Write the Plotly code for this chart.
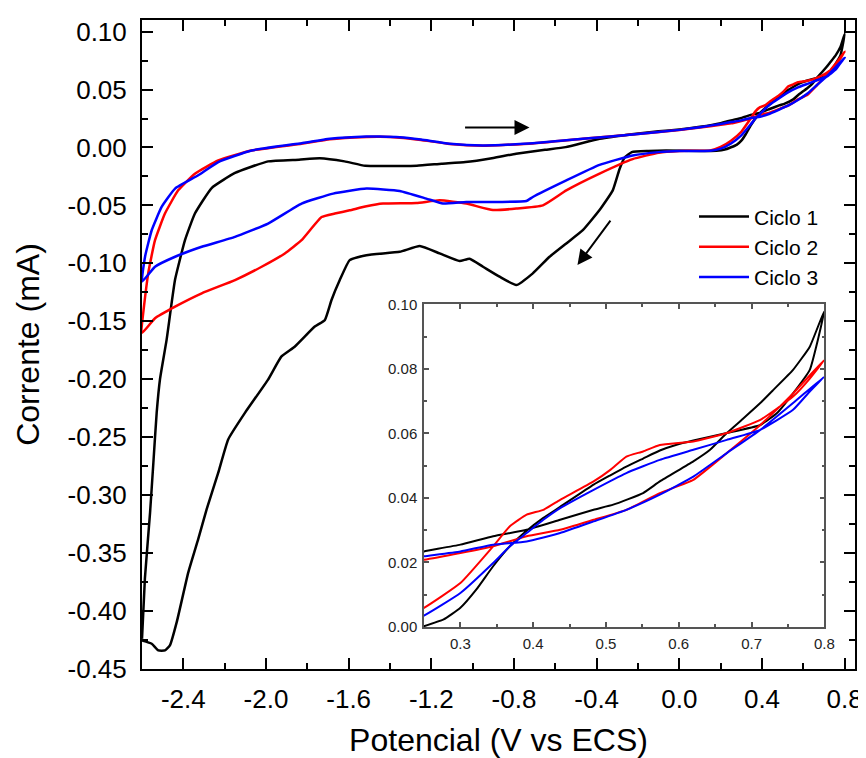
import plotly.graph_objects as go

# ---------------- data ----------------
# Ciclo 1 (anodic -2.6 -> 0.8, then cathodic 0.8 -> -2.6)
c1_v = [-2.600, -2.586, -2.561, -2.545, -2.529, -2.513, -2.481, -2.440, -2.392, -2.344,
        -2.263, -2.150, -1.990, -1.840, -1.740, -1.620, -1.520, -1.400, -1.270, -1.150,
        -1.035, -0.900, -0.790, -0.650, -0.550, -0.386, -0.230, -0.100, 0.000, 0.100,
        0.200, 0.250, 0.300, 0.345, 0.391, 0.437, 0.483, 0.510, 0.551, 0.574,
        0.620, 0.643, 0.666, 0.689, 0.712, 0.730, 0.757, 0.780, 0.800,
        0.780, 0.757, 0.735, 0.712, 0.666, 0.620, 0.597, 0.574, 0.551, 0.528,
        0.506, 0.483, 0.437, 0.414, 0.391, 0.368, 0.345, 0.322, 0.300, 0.277,
        0.250, 0.220, 0.180, 0.100, -0.064, -0.150, -0.230, -0.266, -0.290, -0.322,
        -0.386, -0.467, -0.547, -0.628, -0.709, -0.789, -0.870, -0.950, -1.015, -1.063,
        -1.160, -1.256, -1.353, -1.514, -1.595, -1.643, -1.683, -1.715, -1.764, -1.860,
        -1.925, -1.990, -2.102, -2.183, -2.231, -2.287, -2.328, -2.376, -2.432, -2.465,
        -2.489, -2.521, -2.553, -2.600]
c1_i = [-0.424, -0.372, -0.315, -0.272, -0.229, -0.200, -0.166, -0.114, -0.080, -0.057,
        -0.035, -0.022, -0.012, -0.0105, -0.0093, -0.012, -0.0158, -0.0160, -0.0158, -0.0140,
        -0.0126, -0.0090, -0.0054, -0.0020, 0.0003, 0.0075, 0.0115, 0.0140, 0.0155, 0.0178,
        0.0210, 0.0234, 0.0255, 0.0281, 0.0301, 0.0332, 0.0363, 0.0379, 0.0415, 0.0451,
        0.0513, 0.0549, 0.0601, 0.0647, 0.0694, 0.0735, 0.0797, 0.0869, 0.0980,
        0.0797, 0.0724, 0.0663, 0.0626, 0.0601, 0.0578, 0.0565, 0.0547, 0.0522, 0.0497,
        0.0470, 0.0441, 0.0372, 0.0338, 0.0298, 0.0250, 0.0188, 0.0116, 0.0059, 0.0023,
        0.0002, -0.0018, -0.0028, -0.0030, -0.0026, -0.0030, -0.0040, -0.0090, -0.0190, -0.0370,
        -0.0540, -0.0714, -0.0828, -0.0943, -0.1086, -0.1187, -0.1115, -0.1029, -0.0960, -0.0980,
        -0.0914, -0.0851, -0.0900, -0.0929, -0.0972, -0.1144, -0.1316, -0.1488, -0.1545, -0.1717,
        -0.1803, -0.2003, -0.2290, -0.2519, -0.2806, -0.3121, -0.3379, -0.3666, -0.4096, -0.4297,
        -0.4340, -0.4340, -0.4282, -0.4254]

# Ciclo 2
c2_v = [-2.600, -2.570, -2.537, -2.489, -2.425, -2.344, -2.231, -2.070, -1.828, -1.691,
        -1.514, -1.450, -1.353, -1.250, -1.111, -0.950, -0.709, -0.467, -0.241, 0.000,
        0.100, 0.200, 0.250, 0.300, 0.345, 0.391, 0.437, 0.483, 0.528, 0.574,
        0.620, 0.666, 0.712, 0.757, 0.800,
        0.780, 0.757, 0.712, 0.666, 0.620, 0.574, 0.551, 0.528, 0.506, 0.483,
        0.437, 0.414, 0.391, 0.368, 0.345, 0.300, 0.250, 0.200, 0.150, 0.000,
        -0.100, -0.226, -0.386, -0.547, -0.660, -0.789, -0.902, -1.031, -1.160, -1.272,
        -1.434, -1.514, -1.595, -1.667, -1.731, -1.828, -1.909, -2.021, -2.150, -2.311,
        -2.440, -2.537, -2.600]
c2_i = [-0.160, -0.1086, -0.080, -0.057, -0.037, -0.0226, -0.0112, -0.0026, 0.0032, 0.0070,
        0.0090, 0.0092, 0.0085, 0.0065, 0.0030, 0.0015, 0.0035, 0.0075, 0.0110, 0.0150,
        0.0172, 0.0195, 0.0208, 0.0229, 0.0250, 0.0281, 0.0301, 0.0332, 0.0363, 0.0415,
        0.0456, 0.0539, 0.0626, 0.0724, 0.0828,
        0.0770, 0.0714, 0.0642, 0.0601, 0.0575, 0.0564, 0.0544, 0.0528, 0.0487, 0.0451,
        0.0394, 0.0363, 0.0348, 0.0312, 0.0250, 0.0136, 0.0059, 0.0005, -0.0025, -0.0030,
        -0.0045, -0.0100, -0.0225, -0.0370, -0.0499, -0.0527, -0.0540, -0.0484, -0.0456, -0.0479,
        -0.0484, -0.0507, -0.0542, -0.0570, -0.0600, -0.0800, -0.0914, -0.1029, -0.1144, -0.1258,
        -0.1373, -0.1473, -0.1600]

# Ciclo 3
c3_v = [-2.600, -2.585, -2.553, -2.505, -2.440, -2.328, -2.231, -2.070, -1.828, -1.691,
        -1.514, -1.450, -1.353, -1.250, -1.111, -0.950, -0.709, -0.467, -0.226, 0.000,
        0.100, 0.200, 0.250, 0.300, 0.345, 0.391, 0.437, 0.483, 0.528, 0.574,
        0.620, 0.666, 0.712, 0.757, 0.800,
        0.780, 0.757, 0.712, 0.666, 0.620, 0.574, 0.528, 0.483, 0.437, 0.414,
        0.391, 0.368, 0.345, 0.300, 0.250, 0.200, 0.150, 0.000, -0.100, -0.226,
        -0.386, -0.547, -0.709, -0.740, -0.870, -1.031, -1.144, -1.224, -1.353, -1.514,
        -1.675, -1.828, -1.990, -2.150, -2.311, -2.440, -2.537, -2.600]
c3_i = [-0.1158, -0.094, -0.0714, -0.0513, -0.0355, -0.0240, -0.0126, -0.0026, 0.0037, 0.0075,
        0.0095, 0.0095, 0.0089, 0.0068, 0.0032, 0.0017, 0.0037, 0.0075, 0.0112, 0.0152,
        0.0175, 0.0203, 0.0219, 0.0234, 0.0255, 0.0265, 0.0291, 0.0327, 0.0363, 0.0410,
        0.0466, 0.0539, 0.0611, 0.0694, 0.0776,
        0.0730, 0.0673, 0.0611, 0.0580, 0.0549, 0.0518, 0.0477, 0.0425, 0.0368, 0.0332,
        0.0291, 0.0250, 0.0198, 0.0105, 0.0035, -0.0010, -0.0028, -0.0030, -0.0040, -0.0069,
        -0.0150, -0.0284, -0.0427, -0.0462, -0.0470, -0.0470, -0.0484, -0.0441, -0.0375, -0.0355,
        -0.0398, -0.0484, -0.0656, -0.0771, -0.0857, -0.0943, -0.1029, -0.1158]

series_names = ["Ciclo 1", "Ciclo 2", "Ciclo 3"]
series_colors = ["#000000", "#ff0000", "#0000ff"]

x_tickvals = [-2.4, -2.0, -1.6, -1.2, -0.8, -0.4, 0.0, 0.4, 0.8]
x_ticktext = ["-2.4", "-2.0", "-1.6", "-1.2", "-0.8", "-0.4", "0.0", "0.4", "0.8"]
y_tickvals = [0.10, 0.05, 0.00, -0.05, -0.10, -0.15, -0.20, -0.25, -0.30, -0.35, -0.40, -0.45]
y_ticktext = ["0.10", "0.05", "0.00", "-0.05", "-0.10", "-0.15", "-0.20", "-0.25",
              "-0.30", "-0.35", "-0.40", "-0.45"]
inset_x_tickvals = [0.3, 0.4, 0.5, 0.6, 0.7, 0.8]
inset_x_ticktext = ["0.3", "0.4", "0.5", "0.6", "0.7", "0.8"]
inset_y_tickvals = [0.00, 0.02, 0.04, 0.06, 0.08, 0.10]
inset_y_ticktext = ["0.00", "0.02", "0.04", "0.06", "0.08", "0.10"]

# ---------------- figure ----------------
FONT = "Liberation Sans, Arial, sans-serif"
fig = go.Figure()
data = [(c1_v, c1_i), (c2_v, c2_i), (c3_v, c3_i)]
for (v, i), name, col in zip(data, series_names, series_colors):
    fig.add_trace(go.Scatter(x=v, y=i, mode="lines", name=name,
                             line=dict(color=col, width=2.5, shape="spline", smoothing=0.4),
                             xaxis="x", yaxis="y"))
for (v, i), name, col in zip(data, series_names, series_colors):
    fig.add_trace(go.Scatter(x=v, y=i, mode="lines", name=name, showlegend=False,
                             line=dict(color=col, width=2, shape="spline", smoothing=0.4),
                             xaxis="x2", yaxis="y2"))

main_ax = dict(showline=True, linecolor="black", linewidth=2, mirror="ticks",
               ticks="inside", ticklen=11, tickwidth=2, tickcolor="black",
               showgrid=False, zeroline=False, automargin=False,
               tickfont=dict(family=FONT, size=26, color="black"))

# the page body has an 8px margin, so the figure is 8px smaller than the window
fig.update_layout(
    template="none",
    width=858, height=750,
    margin=dict(l=134, r=11, t=11.5, b=88.5, pad=0),
    paper_bgcolor="white", plot_bgcolor="white",
    font=dict(family=FONT, color="black"),
    xaxis=dict(main_ax, range=[-2.6, 0.85], tickvals=x_tickvals, ticktext=x_ticktext,
               minor=dict(ticks="inside", dtick=0.2, tick0=0, ticklen=6, tickwidth=2, tickcolor="black"),
               ticklabelstandoff=6,
               title=dict(text="Potencial (V vs ECS)", font=dict(family=FONT, size=32), standoff=16)),
    yaxis=dict(main_ax, range=[-0.45, 0.11], tickvals=y_tickvals, ticktext=y_ticktext,
               minor=dict(ticks="inside", dtick=0.025, tick0=0, ticklen=6, tickwidth=2, tickcolor="black"),
               ticklabelstandoff=8,
               title=dict(text="Corrente (mA)", font=dict(family=FONT, size=32), standoff=18)),
    xaxis2=dict(domain=[0.3955, 0.957], anchor="y2", range=[0.25, 0.8],
                tickvals=inset_x_tickvals, ticktext=inset_x_ticktext,
                showline=True, linecolor="#555555", linewidth=1.5, mirror="ticks",
                ticks="inside", ticklen=5, tickwidth=1.5, tickcolor="#555555",
                minor=dict(ticks="inside", dtick=0.05, tick0=0, ticklen=3, tickwidth=1.5, tickcolor="#555555"),
                showgrid=False, zeroline=False, ticklabelstandoff=2, automargin=False,
                tickfont=dict(family=FONT, size=15, color="#222222")),
    yaxis2=dict(domain=[0.0649, 0.5618], anchor="x2", range=[0, 0.1],
                tickvals=inset_y_tickvals, ticktext=inset_y_ticktext,
                showline=True, linecolor="#555555", linewidth=1.5, mirror="ticks",
                ticks="inside", ticklen=5, tickwidth=1.5, tickcolor="#555555",
                minor=dict(ticks="inside", dtick=0.01, tick0=0, ticklen=3, tickwidth=1.5, tickcolor="#555555"),
                showgrid=False, zeroline=False, ticklabelstandoff=2, automargin=False,
                tickfont=dict(family=FONT, size=15, color="#222222")),
    legend=dict(x=0.7742, y=0.7284, xanchor="left", yanchor="top",
                bgcolor="rgba(0,0,0,0)", borderwidth=0, itemwidth=50,
                font=dict(family=FONT, size=21, color="black"), tracegroupgap=0),
    showlegend=True,
)

# scan direction arrows
fig.add_annotation(x=-0.725, y=0.0172, ax=-1.044, ay=0.0172, xref="x", yref="y",
                   axref="x", ayref="y", showarrow=True, arrowhead=2, arrowsize=1.5,
                   arrowwidth=2, arrowcolor="black", text="")
fig.add_annotation(x=-0.493, y=-0.1015, ax=-0.328, ay=-0.0619, xref="x", yref="y",
                   axref="x", ayref="y", showarrow=True, arrowhead=2, arrowsize=1.5,
                   arrowwidth=2, arrowcolor="black", text="")

fig.write_html("out.html")
